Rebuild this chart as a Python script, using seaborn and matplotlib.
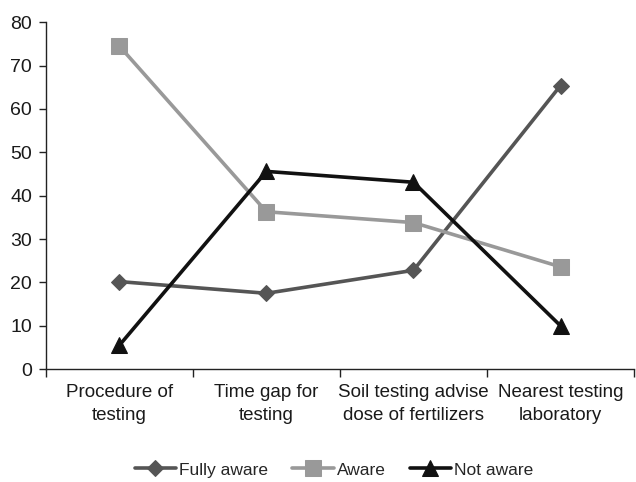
import matplotlib
matplotlib.use("Agg")
import matplotlib.pyplot as plt
import seaborn as sns
import pandas as pd

categories = [
    "Procedure of\ntesting",
    "Time gap for\ntesting",
    "Soil testing advise\ndose of fertilizers",
    "Nearest testing\nlaboratory",
]
fully_aware = [20.2, 17.5, 22.8, 65.4]
aware = [74.5, 36.3, 33.8, 23.6]
not_aware = [5.5, 45.6, 43.1, 10.0]

series_names = ["Fully aware", "Aware", "Not aware"]
series_values = [fully_aware, aware, not_aware]
colors = ["#555555", "#999999", "#111111"]
markers = ["D", "s", "^"]
marker_sizes = [8, 12, 11]

sns.set_theme(style="white")
plt.rcParams["font.family"] = ["Liberation Sans Narrow", "Liberation Sans", "DejaVu Sans"]

df = pd.DataFrame({
    "pos": [i for _ in series_names for i in range(len(categories))],
    "value": [v for vals in series_values for v in vals],
    "series": [name for name in series_names for _ in categories],
})

fig = plt.figure(figsize=(6.36, 4.82), dpi=100)
ax = fig.add_axes([0.072, 0.234, 0.925, 0.72])

for name, col, mk, ms in zip(series_names, colors, markers, marker_sizes):
    sub = df[df["series"] == name]
    sns.lineplot(data=sub, x="pos", y="value", ax=ax, color=col, marker=mk,
                 markersize=ms, markeredgecolor=col, linewidth=2.6, label=name)

ax.set_xlim(-0.5, len(categories) - 0.5)
ax.set_ylim(0, 80)
ax.set_yticks(range(0, 81, 10))
ax.set_xticks([i - 0.5 for i in range(len(categories) + 1)])
ax.set_xticklabels([])
ax.set_xticks(range(len(categories)), minor=True)
ax.set_xticklabels(categories, minor=True, fontsize=13.5, color="#1a1a1a", linespacing=1.45)
ax.tick_params(axis="x", which="major", direction="out", length=6, width=1, color="#222222", bottom=True)
ax.tick_params(axis="x", which="minor", length=0, pad=11)
ax.tick_params(axis="y", direction="out", length=5, width=1, color="#222222", left=True,
               labelsize=14, labelcolor="#1a1a1a", pad=5)
ax.set_xlabel("")
ax.set_ylabel("")
for s in ["top", "right"]:
    ax.spines[s].set_visible(False)
for s in ["left", "bottom"]:
    ax.spines[s].set_color("#222222")
    ax.spines[s].set_linewidth(1)

ax.get_legend().remove()
handles, labels = ax.get_legend_handles_labels()
fig.legend(handles, labels, loc="center", bbox_to_anchor=(0.525, 0.025), ncol=3, frameon=False,
           fontsize=12.5, handlelength=2.4, columnspacing=1.4, handletextpad=0.15)

fig.savefig("out.png", dpi=100)
